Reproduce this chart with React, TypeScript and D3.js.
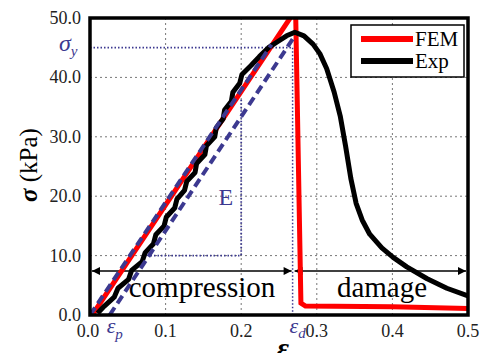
import React from "react";
import * as d3 from "d3";

// strain ticks and stress ticks
const xTicks = [0.0, 0.1, 0.2, 0.3, 0.4, 0.5];
const yTicks = [0, 10, 20, 30, 40, 50];

// FEM curve [strain, stress kPa]
const femCurve: [number, number][] = [
  [0.003, 0], [0.27, 51], [0.272, 51], [0.279, 2.0], [0.285, 1.5], [0.4, 1.4], [0.5, 1.1],
];

// experimental curve, rising part (serrated) then softening
const expCurve: [number, number][] = [
  [0.010, 0.3], [0.019, 1.5], [0.032, 3], [0.037, 4.5], [0.051, 6], [0.055, 7.5],
  [0.069, 9], [0.073, 10.5], [0.084, 12], [0.087, 13.5], [0.098, 15], [0.101, 16.5],
  [0.112, 18], [0.115, 19.5], [0.125, 21], [0.128, 22.5], [0.139, 24], [0.141, 25.5],
  [0.152, 27], [0.154, 28.5], [0.165, 30], [0.167, 31.5], [0.176, 33], [0.178, 34.5],
  [0.187, 36], [0.189, 37.5], [0.198, 39], [0.201, 40.5], [0.213, 42], [0.224, 43.5],
  [0.236, 45], [0.248, 46], [0.26, 47], [0.271, 47.6], [0.283, 47.0], [0.295, 45.6],
  [0.304, 44.0], [0.313, 41.5], [0.323, 37.5], [0.331, 33.5], [0.338, 28.5],
  [0.345, 23.0], [0.352, 18.8], [0.360, 16.0], [0.370, 13.6], [0.386, 11.3],
  [0.401, 9.7], [0.419, 8.1], [0.446, 6.1], [0.472, 4.5], [0.5, 3.2],
];

// modulus lines (purple dashed)
const elasticLine: [number, number][] = [[0.0, 0], [0.24, 45.5]];
const offsetLine: [number, number][] = [[0.026, 0], [0.271, 47]];

const epsP = 0.026;
const epsD = 0.268;
const sigmaY = 45;
const eTriangle: [number, number][] = [[0.08, 10], [0.2, 10], [0.2, 36.5]];
const arrowStress = 7.4;

const legendItems = [
  { name: "FEM", color: "#ff0000" },
  { name: "Exp", color: "#000000" },
];

const W = 482;
const H = 353;
const m = { left: 90, right: 468, top: 18, bottom: 315 };
const purple = "#3c3990";
const serif = "Liberation Serif, Tinos, Times New Roman, Times, DejaVu Serif, serif";

export default function App() {
  const x = d3.scaleLinear().domain([0, 0.5]).range([m.left, m.right]);
  const y = d3.scaleLinear().domain([0, 50]).range([m.bottom, m.top]);
  const line = d3
    .line<[number, number]>()
    .x((d) => x(d[0]))
    .y((d) => y(d[1]));

  const ay = y(arrowStress);

  return (
    <svg
      width={W}
      height={H}
      fontFamily={serif}
      style={{ position: "absolute", left: 0, top: 0, background: "#fff" }}
    >
      <defs>
        <clipPath id="plot">
          <rect x={m.left} y={m.top} width={m.right - m.left} height={m.bottom - m.top} />
        </clipPath>
        <marker id="ah" viewBox="0 0 10 10" refX="10" refY="5" markerWidth="9" markerHeight="8"
          markerUnits="userSpaceOnUse" orient="auto-start-reverse">
          <path d="M0,0 L10,5 L0,10 z" fill="#000" />
        </marker>
      </defs>

      {/* grid */}
      {xTicks.slice(1, -1).map((t) => (
        <line key={"gx" + t} x1={x(t)} x2={x(t)} y1={m.top} y2={m.bottom}
          stroke="#777" strokeWidth={1} strokeDasharray="2,3" />
      ))}
      {yTicks.slice(1, -1).map((t) => (
        <line key={"gy" + t} x1={m.left} x2={m.right} y1={y(t)} y2={y(t)}
          stroke="#777" strokeWidth={1} strokeDasharray="2,3" />
      ))}

      {/* sigma_y and eps_d guides */}
      <line x1={m.left} x2={x(epsD)} y1={y(sigmaY)} y2={y(sigmaY)}
        stroke={purple} strokeWidth={1.8} strokeDasharray="1.5,2" />
      <line x1={x(epsD)} x2={x(epsD)} y1={y(sigmaY)} y2={m.bottom}
        stroke={purple} strokeWidth={1.5} strokeDasharray="1.5,2" />
      <path d={line(eTriangle) ?? ""} fill="none" stroke={purple} strokeWidth={1.8}
        strokeDasharray="1.5,2" />
      <text x={x(0.2) - 8} y={205} fontSize={24} fill={purple} textAnchor="end">E</text>

      {/* arrows */}
      <line x1={m.left + 2} x2={x(epsD) - 1} y1={ay} y2={ay} stroke="#000" strokeWidth={1.5}
        markerStart="url(#ah)" markerEnd="url(#ah)" />
      <line x1={x(epsD) + 2} x2={m.right - 2} y1={ay} y2={ay} stroke="#000" strokeWidth={1.5}
        markerStart="url(#ah)" markerEnd="url(#ah)" />
      <text x={202} y={297} fontSize={29} textAnchor="middle" fill="#000">compression</text>
      <text x={382} y={297} fontSize={29} textAnchor="middle" fill="#000">damage</text>

      <g clipPath="url(#plot)">
        <path d={line(femCurve) ?? ""} fill="none" stroke="#ff0000" strokeWidth={5}
          strokeLinejoin="miter" />
        <path d={line(expCurve) ?? ""} fill="none" stroke="#000" strokeWidth={5}
          strokeLinejoin="round" />
        <path d={line(elasticLine) ?? ""} fill="none" stroke={purple} strokeWidth={4}
          strokeDasharray="9,5" />
        <path d={line(offsetLine) ?? ""} fill="none" stroke={purple} strokeWidth={4}
          strokeDasharray="9,5" />
      </g>

      {/* frame */}
      <rect x={m.left} y={m.top} width={m.right - m.left} height={m.bottom - m.top}
        fill="none" stroke="#000" strokeWidth={3.5} />

      {/* tick labels */}
      {yTicks.map((t) => (
        <text key={"ly" + t} x={81} y={y(t) + 6} fontSize={18} fill="#222" textAnchor="end">
          {t.toFixed(1)}
        </text>
      ))}
      {xTicks.map((t) => (
        <text key={"lx" + t} x={x(t) + (t === 0 ? -2 : 0)} y={337} fontSize={18} fill="#222"
          textAnchor="middle">
          {t.toFixed(1)}
        </text>
      ))}

      {/* symbols */}
      <text x={59} y={51} fontSize={24} fill={purple} fontStyle="italic">
        σ<tspan fontSize={15} dy={5}>y</tspan>
      </text>
      <text x={x(epsP) - 3} y={333} fontSize={22} fill={purple} fontStyle="italic">
        ε<tspan fontSize={15} dy={6}>p</tspan>
      </text>
      <text x={x(epsD) - 3} y={333} fontSize={22} fill={purple} fontStyle="italic">
        ε<tspan fontSize={15} dy={5}>d</tspan>
      </text>

      {/* axis titles */}
      <text transform="translate(37,165) rotate(-90)" fontSize={25} textAnchor="middle" fill="#000">
        <tspan fontWeight="bold" fontStyle="italic">σ</tspan> (kPa)
      </text>
      <text x={283} y={358} fontSize={30} fontWeight="bold" fontStyle="italic" textAnchor="middle">
        ε
      </text>

      {/* legend */}
      <rect x={351} y={25} width={113} height={52} fill="#fff" stroke="#000" strokeWidth={1.5} />
      {legendItems.map((d, i) => (
        <g key={d.name} transform={`translate(0, ${39 + i * 22})`}>
          <line x1={361} x2={413} y1={0} y2={0} stroke={d.color} strokeWidth={6} />
          <text x={415} y={7} fontSize={21} fill="#000">{d.name}</text>
        </g>
      ))}
    </svg>
  );
}
